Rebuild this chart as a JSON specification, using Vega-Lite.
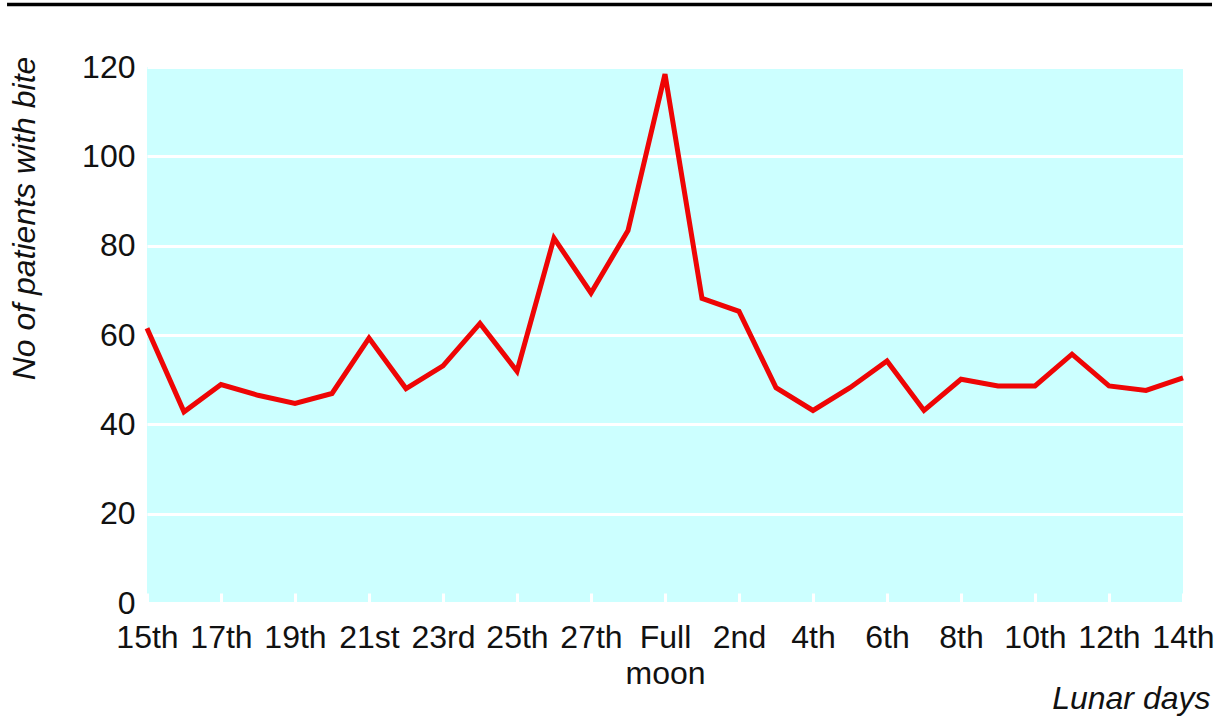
{
  "$schema": "https://vega.github.io/schema/vega-lite/v6.json",
  "width": 1036,
  "height": 536,
  "autosize": {"type": "none"},
  "padding": {"left": 147, "top": 67, "right": 36, "bottom": 115},
  "background": "white",
  "config": {
    "view": {"fill": "#ccffff", "stroke": null},
    "font": "Liberation Sans"
  },
  "layer": [
    {
      "data": {
        "values": [
          {"day": "15th", "bites": 61.5},
          {"day": "16th", "bites": 42.8},
          {"day": "17th", "bites": 48.9},
          {"day": "18th", "bites": 46.5},
          {"day": "19th", "bites": 44.7},
          {"day": "20th", "bites": 46.9},
          {"day": "21st", "bites": 59.3},
          {"day": "22nd", "bites": 48.0},
          {"day": "23rd", "bites": 53.1},
          {"day": "24th", "bites": 62.6},
          {"day": "25th", "bites": 51.9},
          {"day": "26th", "bites": 81.7},
          {"day": "27th", "bites": 69.4},
          {"day": "28th", "bites": 83.4},
          {"day": "Full moon", "bites": 118.4},
          {"day": "1st", "bites": 68.2},
          {"day": "2nd", "bites": 65.3},
          {"day": "3rd", "bites": 48.2},
          {"day": "4th", "bites": 43.1},
          {"day": "5th", "bites": 48.2},
          {"day": "6th", "bites": 54.2},
          {"day": "7th", "bites": 43.1},
          {"day": "8th", "bites": 50.1},
          {"day": "9th", "bites": 48.6},
          {"day": "10th", "bites": 48.6},
          {"day": "11th", "bites": 55.7},
          {"day": "12th", "bites": 48.6},
          {"day": "13th", "bites": 47.6},
          {"day": "14th", "bites": 50.4}
        ]
      },
      "mark": {"type": "line", "color": "#ee0505", "strokeWidth": 5, "strokeJoin": "miter"},
      "encoding": {
        "x": {
          "field": "day",
          "type": "ordinal",
          "sort": null,
          "scale": {"type": "point", "padding": 0},
          "axis": {
            "values": ["15th", "17th", "19th", "21st", "23rd", "25th", "27th", "Full moon", "2nd", "4th", "6th", "8th", "10th", "12th", "14th"],
            "labelExpr": "datum.value == 'Full moon' ? ['Full', 'moon'] : datum.value",
            "labelAngle": 0,
            "labelFontSize": 32,
            "labelColor": "#111111",
            "labelBaseline": "alphabetic",
            "labelPadding": 54,
            "labelLineHeight": 36,
            "labelFlush": false,
            "labelOverlap": false,
            "ticks": true,
            "tickColor": "white",
            "tickWidth": 3,
            "tickSize": -10,
            "domain": false,
            "grid": false,
            "title": "Lunar days",
            "titleFontSize": 32,
            "titleFontStyle": "italic",
            "titleFontWeight": "normal",
            "titleColor": "#111111",
            "titleX": 1063,
            "titleY": 105,
            "titleAlign": "right",
            "titleBaseline": "alphabetic"
          }
        },
        "y": {
          "field": "bites",
          "type": "quantitative",
          "scale": {"domain": [0, 120], "nice": false},
          "axis": {
            "values": [0, 20, 40, 60, 80, 100, 120],
            "labelFontSize": 32,
            "labelColor": "#111111",
            "labelPadding": 12,
            "ticks": false,
            "domain": false,
            "grid": true,
            "gridColor": "white",
            "gridWidth": 3,
            "gridOpacity": 1,
            "title": "No of patients with bite",
            "titleFontSize": 32,
            "titleFontStyle": "italic",
            "titleFontWeight": "normal",
            "titleColor": "#111111",
            "titleAngle": -90,
            "titleX": -113,
            "titleY": 151,
            "titleAlign": "center",
            "titleBaseline": "alphabetic"
          }
        }
      }
    },
    {
      "data": {"values": [{}]},
      "mark": {"type": "rule", "color": "black", "strokeWidth": 3.5},
      "encoding": {
        "x": {"datum": -0.1351, "type": "quantitative", "scale": {"domain": [0, 1]}, "axis": null},
        "x2": {"datum": 1.028},
        "y": {"datum": 134, "type": "quantitative", "scale": {"domain": [0, 120], "nice": false}}
      }
    }
  ],
  "resolve": {"scale": {"x": "independent"}}
}
